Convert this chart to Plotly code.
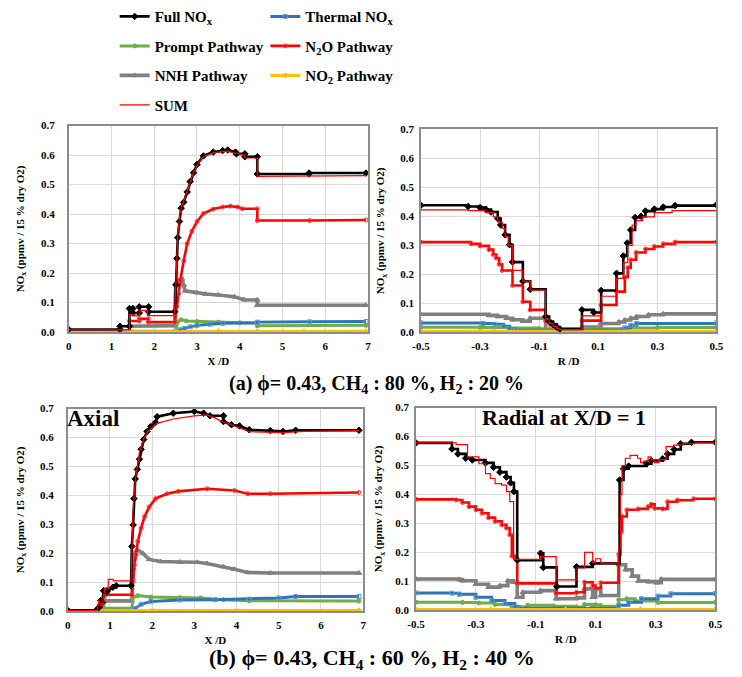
import plotly.graph_objects as go

FONT = "Liberation Serif"

# ---------------- tick labels ----------------
Y_TICKS = [0.0, 0.1, 0.2, 0.3, 0.4, 0.5, 0.6, 0.7]
Y_TICK_TEXT = ["0.0", "0.1", "0.2", "0.3", "0.4", "0.5", "0.6", "0.7"]
AX_TICKS = [0, 1, 2, 3, 4, 5, 6, 7]
AX_TICK_TEXT = ["0", "1", "2", "3", "4", "5", "6", "7"]
RAD_TICKS = [-0.5, -0.3, -0.1, 0.1, 0.3, 0.5]
RAD_TICK_TEXT = ["-0.5", "-0.3", "-0.1", "0.1", "0.3", "0.5"]

# ---------------- (a) axial ----------------
A_AX_FULL_X = [0, 1.2, 1.2, 1.42, 1.42, 1.5, 1.5, 1.65, 1.65, 1.87, 1.87, 2.48, 2.51, 2.53, 2.55, 2.59, 2.63, 2.69, 2.77, 2.84, 2.92, 3.0, 3.15, 3.38, 3.6, 3.72, 3.9, 3.92, 4.12, 4.12, 4.41, 4.41, 5.62, 5.62, 6.95]
A_AX_FULL_Y = [0.009, 0.009, 0.02, 0.02, 0.08, 0.08, 0.065, 0.065, 0.086, 0.086, 0.069, 0.069, 0.16, 0.25, 0.32, 0.375, 0.42, 0.44, 0.475, 0.51, 0.54, 0.568, 0.597, 0.61, 0.615, 0.617, 0.61, 0.604, 0.604, 0.594, 0.594, 0.536, 0.536, 0.539, 0.539]
A_AX_SUM_X = [0, 1.42, 1.42, 1.53, 1.53, 1.65, 1.65, 1.84, 1.84, 2.47, 2.5, 2.52, 2.55, 2.6, 2.65, 2.72, 2.8, 2.9, 3.0, 3.15, 3.4, 3.7, 3.9, 4.12, 4.12, 4.41, 4.41, 6.95]
A_AX_SUM_Y = [0.008, 0.008, 0.06, 0.06, 0.055, 0.055, 0.074, 0.074, 0.056, 0.056, 0.14, 0.24, 0.33, 0.4, 0.43, 0.455, 0.49, 0.535, 0.565, 0.595, 0.608, 0.613, 0.606, 0.6, 0.59, 0.59, 0.528, 0.53]
A_AX_N2O_X = [0, 1.42, 1.42, 1.65, 1.65, 1.86, 1.86, 2.48, 2.53, 2.57, 2.61, 2.69, 2.77, 2.88, 3.0, 3.15, 3.38, 3.6, 3.78, 3.95, 4.06, 4.41, 4.41, 5.63, 6.95]
A_AX_N2O_Y = [0.005, 0.005, 0.038, 0.038, 0.045, 0.045, 0.034, 0.034, 0.087, 0.13, 0.176, 0.242, 0.3, 0.342, 0.375, 0.402, 0.417, 0.424, 0.427, 0.424, 0.418, 0.418, 0.378, 0.378, 0.38]
A_AX_NNH_X = [0, 1.42, 1.42, 2.48, 2.5, 2.58, 2.65, 2.69, 2.72, 3.0, 3.2, 3.5, 3.87, 4.1, 4.41, 4.41, 6.95]
A_AX_NNH_Y = [0.003, 0.003, 0.02, 0.022, 0.165, 0.176, 0.18, 0.16, 0.14, 0.134, 0.129, 0.126, 0.12, 0.11, 0.109, 0.091, 0.091]
A_AX_THERMAL_X = [0, 2.5, 2.6, 2.7, 2.84, 3.0, 3.3, 3.6, 4.41, 4.41, 5.63, 6.95]
A_AX_THERMAL_Y = [0.002, 0.003, 0.008, 0.013, 0.018, 0.023, 0.027, 0.03, 0.032, 0.034, 0.035, 0.036]
A_AX_PROMPT_X = [0, 2.5, 2.55, 2.63, 2.75, 3.0, 3.5, 4.0, 4.41, 4.41, 6.95]
A_AX_PROMPT_Y = [0.003, 0.004, 0.035, 0.042, 0.038, 0.036, 0.034, 0.032, 0.031, 0.022, 0.023]
A_AX_NO2_X = [0, 1.5, 2.5, 3.5, 4.41, 5.5, 6.95]
A_AX_NO2_Y = [0.001, 0.001, 0.002, 0.003, 0.003, 0.003, 0.003]

# ---------------- (a) radial ----------------
A_RAD_FULL_X = [-0.5, -0.34, -0.3, -0.28, -0.263, -0.24, -0.23, -0.215, -0.2, -0.19, -0.155, -0.13, -0.078, -0.066, -0.053, -0.04, -0.03, 0.045, 0.085, 0.11, 0.162, 0.185, 0.198, 0.21, 0.225, 0.245, 0.26, 0.29, 0.32, 0.36, 0.5]
A_RAD_FULL_Y = [0.438, 0.434, 0.43, 0.423, 0.415, 0.392, 0.37, 0.336, 0.302, 0.242, 0.176, 0.148, 0.054, 0.037, 0.026, 0.017, 0.011, 0.077, 0.068, 0.144, 0.203, 0.263, 0.308, 0.353, 0.396, 0.40, 0.418, 0.425, 0.432, 0.437, 0.44]
A_RAD_SUM_X = [-0.5, -0.34, -0.28, -0.255, -0.24, -0.225, -0.215, -0.205, -0.19, -0.155, -0.13, -0.078, -0.066, -0.053, -0.04, -0.03, 0.045, 0.11, 0.162, 0.185, 0.2, 0.215, 0.228, 0.25, 0.29, 0.35, 0.5]
A_RAD_SUM_Y = [0.422, 0.42, 0.413, 0.398, 0.38, 0.358, 0.33, 0.3, 0.213, 0.176, 0.145, 0.045, 0.03, 0.02, 0.012, 0.009, 0.056, 0.124, 0.186, 0.24, 0.3, 0.37, 0.385, 0.398, 0.413, 0.42, 0.422]
A_RAD_N2O_X = [-0.5, -0.33, -0.3, -0.27, -0.255, -0.245, -0.235, -0.225, -0.19, -0.155, -0.13, -0.078, -0.062, -0.04, -0.03, 0.045, 0.11, 0.162, 0.19, 0.2, 0.21, 0.228, 0.26, 0.29, 0.32, 0.36, 0.5]
A_RAD_N2O_Y = [0.311, 0.305, 0.298, 0.285, 0.268, 0.256, 0.234, 0.213, 0.161, 0.105, 0.077, 0.04, 0.026, 0.015, 0.009, 0.04, 0.094, 0.14, 0.19, 0.223, 0.25, 0.275, 0.287, 0.296, 0.305, 0.311, 0.311]
A_RAD_NNH_X = [-0.5, -0.27, -0.24, -0.21, -0.19, -0.155, -0.13, -0.078, 0.045, 0.11, 0.17, 0.19, 0.21, 0.23, 0.27, 0.32, 0.5]
A_RAD_NNH_Y = [0.062, 0.058, 0.054, 0.048, 0.043, 0.038, 0.048, 0.009, 0.018, 0.03, 0.035, 0.042, 0.048, 0.054, 0.06, 0.063, 0.063]
A_RAD_THERMAL_X = [-0.5, -0.29, -0.25, -0.22, -0.2, -0.18, 0.18, 0.19, 0.21, 0.23, 0.5]
A_RAD_THERMAL_Y = [0.032, 0.03, 0.027, 0.02, 0.012, 0.007, 0.009, 0.015, 0.024, 0.03, 0.032]
A_RAD_PROMPT_X = [-0.5, -0.3, -0.2, -0.1, 0.1, 0.2, 0.3, 0.5]
A_RAD_PROMPT_Y = [0.017, 0.016, 0.014, 0.012, 0.012, 0.014, 0.016, 0.017]
A_RAD_NO2_X = [-0.5, -0.25, 0.0, 0.25, 0.5]
A_RAD_NO2_Y = [0.003, 0.003, 0.003, 0.003, 0.003]

# ---------------- (b) axial ----------------
B_AX_FULL_X = [0, 0.67, 0.75, 0.78, 0.82, 0.85, 0.93, 0.93, 1.07, 1.15, 1.5, 1.52, 1.55, 1.57, 1.6, 1.65, 1.7, 1.74, 1.8, 1.88, 1.97, 2.08, 2.12, 2.5, 3.0, 3.22, 3.37, 3.69, 3.69, 3.88, 4.07, 4.3, 4.8, 5.1, 5.4, 6.9]
B_AX_FULL_Y = [0.003, 0.003, 0.015, 0.037, 0.03, 0.071, 0.071, 0.068, 0.083, 0.088, 0.088, 0.224, 0.298, 0.389, 0.457, 0.49, 0.525, 0.559, 0.593, 0.621, 0.638, 0.652, 0.672, 0.684, 0.69, 0.684, 0.675, 0.675, 0.655, 0.644, 0.64, 0.627, 0.624, 0.621, 0.625, 0.625]
B_AX_SUM_X = [0, 0.7, 0.74, 0.78, 0.82, 0.88, 0.96, 0.96, 1.08, 1.08, 1.5, 1.52, 1.55, 1.6, 1.65, 1.7, 1.8, 1.9, 2.0, 2.1, 2.5, 3.0, 3.3, 3.5, 3.65, 3.88, 4.3, 5.1, 5.6, 6.9]
B_AX_SUM_Y = [0.003, 0.003, 0.04, 0.02, 0.02, 0.08, 0.08, 0.11, 0.11, 0.105, 0.105, 0.25, 0.35, 0.45, 0.51, 0.55, 0.595, 0.62, 0.635, 0.648, 0.664, 0.675, 0.678, 0.667, 0.655, 0.644, 0.62, 0.617, 0.621, 0.624]
B_AX_N2O_X = [0, 0.7, 0.75, 0.82, 0.9, 1.52, 1.55, 1.58, 1.62, 1.66, 1.74, 1.82, 1.93, 2.08, 2.35, 2.62, 3.3, 3.95, 4.26, 4.8, 6.9]
B_AX_N2O_Y = [0.003, 0.003, 0.02, 0.04, 0.057, 0.057, 0.105, 0.16, 0.196, 0.241, 0.287, 0.327, 0.36, 0.389, 0.406, 0.414, 0.423, 0.417, 0.406, 0.406, 0.41]
B_AX_NNH_X = [0, 0.7, 0.75, 0.82, 0.9, 1.52, 1.55, 1.58, 1.65, 1.78, 1.93, 2.2, 2.66, 3.07, 3.3, 3.69, 3.95, 4.26, 4.8, 6.9]
B_AX_NNH_Y = [0.001, 0.001, 0.01, 0.02, 0.036, 0.036, 0.15, 0.2, 0.213, 0.2, 0.179, 0.172, 0.17, 0.169, 0.165, 0.154, 0.145, 0.134, 0.132, 0.132]
B_AX_THERMAL_X = [0, 1.52, 1.6, 1.74, 1.97, 2.66, 3.5, 4.3, 5.0, 5.4, 6.9]
B_AX_THERMAL_Y = [0.002, 0.002, 0.01, 0.024, 0.034, 0.039, 0.04, 0.042, 0.046, 0.051, 0.051]
B_AX_PROMPT_X = [0, 0.7, 0.75, 1.52, 1.55, 1.66, 1.97, 2.66, 3.15, 3.69, 4.3, 6.9]
B_AX_PROMPT_Y = [0.001, 0.001, 0.01, 0.01, 0.049, 0.054, 0.049, 0.047, 0.046, 0.04, 0.036, 0.035]
B_AX_NO2_X = [0, 2.0, 4.0, 6.9]
B_AX_NO2_Y = [0.002, 0.002, 0.002, 0.003]

# ---------------- (b) radial ----------------
B_RAD_FULL_X = [-0.5, -0.38, -0.36, -0.334, -0.312, -0.268, -0.241, -0.22, -0.198, -0.184, -0.173, -0.162, -0.084, -0.075, -0.03, 0.036, 0.09, 0.18, 0.193, 0.21, 0.27, 0.286, 0.324, 0.34, 0.362, 0.384, 0.42, 0.5]
B_RAD_FULL_Y = [0.578, 0.557, 0.54, 0.525, 0.519, 0.509, 0.494, 0.477, 0.46, 0.44, 0.41, 0.173, 0.197, 0.148, 0.082, 0.15, 0.162, 0.45, 0.489, 0.498, 0.506, 0.517, 0.523, 0.54, 0.555, 0.575, 0.58, 0.58]
B_RAD_SUM_X = [-0.5, -0.366, -0.328, -0.29, -0.268, -0.252, -0.236, -0.214, -0.198, -0.187, -0.174, -0.084, -0.032, 0.038, 0.063, 0.09, 0.1, 0.117, 0.177, 0.183, 0.188, 0.199, 0.215, 0.24, 0.25, 0.26, 0.275, 0.285, 0.295, 0.31, 0.335, 0.36, 0.39, 0.43, 0.5]
B_RAD_SUM_Y = [0.578, 0.572, 0.53, 0.506, 0.472, 0.455, 0.437, 0.432, 0.41, 0.375, 0.176, 0.185, 0.105, 0.146, 0.2, 0.165, 0.178, 0.163, 0.215, 0.4, 0.5, 0.525, 0.535, 0.525, 0.51, 0.515, 0.53, 0.52, 0.51, 0.52, 0.565, 0.57, 0.575, 0.578, 0.578]
B_RAD_N2O_X = [-0.5, -0.366, -0.345, -0.323, -0.3, -0.28, -0.258, -0.236, -0.214, -0.198, -0.187, -0.18, -0.17, -0.162, -0.032, 0.036, 0.063, 0.09, 0.1, 0.117, 0.177, 0.183, 0.188, 0.204, 0.242, 0.275, 0.286, 0.297, 0.324, 0.34, 0.373, 0.427, 0.5]
B_RAD_N2O_Y = [0.383, 0.381, 0.372, 0.358, 0.347, 0.335, 0.32, 0.307, 0.295, 0.284, 0.261, 0.188, 0.182, 0.093, 0.059, 0.062, 0.097, 0.085, 0.077, 0.095, 0.193, 0.27, 0.324, 0.347, 0.35, 0.358, 0.366, 0.352, 0.35, 0.375, 0.38, 0.385, 0.385]
B_RAD_NNH_X = [-0.5, -0.355, -0.345, -0.3, -0.258, -0.22, -0.193, -0.175, -0.162, -0.143, -0.084, -0.032, 0.036, 0.063, 0.09, 0.1, 0.117, 0.177, 0.2, 0.222, 0.243, 0.276, 0.303, 0.319, 0.5]
B_RAD_NNH_Y = [0.108, 0.106, 0.102, 0.09, 0.08, 0.085, 0.102, 0.097, 0.045, 0.062, 0.068, 0.04, 0.043, 0.074, 0.045, 0.074, 0.051, 0.157, 0.14, 0.118, 0.101, 0.099, 0.095, 0.107, 0.107]
B_RAD_THERMAL_X = [-0.5, -0.38, -0.355, -0.3, -0.247, -0.203, -0.17, -0.15, 0.177, 0.21, 0.253, 0.308, 0.351, 0.5]
B_RAD_THERMAL_Y = [0.06, 0.059, 0.055, 0.045, 0.034, 0.023, 0.011, 0.007, 0.017, 0.028, 0.04, 0.049, 0.057, 0.058]
B_RAD_PROMPT_X = [-0.5, -0.345, -0.29, -0.236, -0.18, -0.16, -0.127, -0.04, 0.036, 0.063, 0.09, 0.1, 0.117, 0.177, 0.204, 0.232, 0.308, 0.5]
B_RAD_PROMPT_Y = [0.028, 0.027, 0.025, 0.02, 0.014, 0.011, 0.017, 0.014, 0.011, 0.02, 0.014, 0.019, 0.014, 0.036, 0.04, 0.032, 0.027, 0.028]
B_RAD_NO2_X = [-0.5, -0.25, 0.0, 0.25, 0.5]
B_RAD_NO2_Y = [0.003, 0.003, 0.003, 0.003, 0.003]

PANEL_DATA = {
    "a_ax": {"full": (A_AX_FULL_X, A_AX_FULL_Y), "sum": (A_AX_SUM_X, A_AX_SUM_Y),
             "n2o": (A_AX_N2O_X, A_AX_N2O_Y), "nnh": (A_AX_NNH_X, A_AX_NNH_Y),
             "thermal": (A_AX_THERMAL_X, A_AX_THERMAL_Y), "prompt": (A_AX_PROMPT_X, A_AX_PROMPT_Y),
             "no2": (A_AX_NO2_X, A_AX_NO2_Y)},
    "a_rad": {"full": (A_RAD_FULL_X, A_RAD_FULL_Y), "sum": (A_RAD_SUM_X, A_RAD_SUM_Y),
              "n2o": (A_RAD_N2O_X, A_RAD_N2O_Y), "nnh": (A_RAD_NNH_X, A_RAD_NNH_Y),
              "thermal": (A_RAD_THERMAL_X, A_RAD_THERMAL_Y), "prompt": (A_RAD_PROMPT_X, A_RAD_PROMPT_Y),
              "no2": (A_RAD_NO2_X, A_RAD_NO2_Y)},
    "b_ax": {"full": (B_AX_FULL_X, B_AX_FULL_Y), "sum": (B_AX_SUM_X, B_AX_SUM_Y),
             "n2o": (B_AX_N2O_X, B_AX_N2O_Y), "nnh": (B_AX_NNH_X, B_AX_NNH_Y),
             "thermal": (B_AX_THERMAL_X, B_AX_THERMAL_Y), "prompt": (B_AX_PROMPT_X, B_AX_PROMPT_Y),
             "no2": (B_AX_NO2_X, B_AX_NO2_Y)},
    "b_rad": {"full": (B_RAD_FULL_X, B_RAD_FULL_Y), "sum": (B_RAD_SUM_X, B_RAD_SUM_Y),
              "n2o": (B_RAD_N2O_X, B_RAD_N2O_Y), "nnh": (B_RAD_NNH_X, B_RAD_NNH_Y),
              "thermal": (B_RAD_THERMAL_X, B_RAD_THERMAL_Y), "prompt": (B_RAD_PROMPT_X, B_RAD_PROMPT_Y),
              "no2": (B_RAD_NO2_X, B_RAD_NO2_Y)},
}

# ---------------- styles ----------------
STYLE = {
    "full": dict(name="Full NO<sub>x</sub>", color="#000000", mcolor="#000000", symbol="diamond", lw=2.6, ms=5, legend="legend", rank=1),
    "thermal": dict(name="Thermal NO<sub>x</sub>", color="#2E75B6", mcolor="#5B9BD5", symbol="square-open", lw=3, ms=4, legend="legend2", rank=1),
    "prompt": dict(name="Prompt Pathway", color="#70AD47", mcolor="#70AD47", symbol="circle", lw=3, ms=4, legend="legend", rank=2),
    "n2o": dict(name="N<sub>2</sub>O Pathway", color="#FF0000", mcolor="#FF3030", symbol="circle-open", lw=2.6, ms=4, legend="legend2", rank=2),
    "nnh": dict(name="NNH Pathway", color="#808080", mcolor="#808080", symbol="triangle-up", lw=3.6, ms=5, legend="legend", rank=3),
    "no2": dict(name="NO<sub>2</sub> Pathway", color="#FFC000", mcolor="#FFC000", symbol="diamond", lw=3, ms=4, legend="legend2", rank=3),
    "sum": dict(name="SUM", color="#FF0000", mcolor="#FF0000", symbol=None, lw=1.2, ms=0, legend="legend", rank=4),
}
DRAW_ORDER = ["nnh", "prompt", "thermal", "n2o", "no2", "full", "sum"]

PANELS = [
    ("a_ax", "x", "y", "linear"),
    ("a_rad", "x2", "y2", "hv"),
    ("b_ax", "x3", "y3", "linear"),
    ("b_rad", "x4", "y4", "hv"),
]

fig = go.Figure()
for pi, (pkey, xa, ya, shape) in enumerate(PANELS):
    for skey in DRAW_ORDER:
        st = STYLE[skey]
        xs, ys = PANEL_DATA[pkey][skey]
        kw = dict(
            x=xs, y=ys, xaxis=xa, yaxis=ya, name=st["name"],
            legendgroup=skey, legend=st["legend"], legendrank=st["rank"],
            showlegend=(pi == 0), hoverinfo="skip",
            line=dict(color=st["color"], width=st["lw"], shape=shape),
        )
        if st["symbol"]:
            kw["mode"] = "lines+markers"
            kw["marker"] = dict(symbol=st["symbol"], size=st["ms"], color=st["mcolor"],
                                line=dict(width=1, color=st["mcolor"]))
        else:
            kw["mode"] = "lines"
        fig.add_trace(go.Scatter(**kw))

W, H = 742, 677
def dom_x(a, b):
    return [a / W, b / W]
def dom_y(top, bot):
    return [1 - bot / H, 1 - top / H]

TICKFONT = dict(family=FONT, size=11, color="black", weight="bold")
TITLEFONT = dict(family=FONT, size=11, color="black", weight="bold")
YTITLE = "NO<sub>x</sub> (ppmv / 15 % dry O2)"

def xaxis(domain, anchor, axial, title):
    d = dict(domain=domain, anchor=anchor, showgrid=True, gridcolor="#d9d9d9", gridwidth=1,
             showline=True, mirror=True, linecolor="#8c8c8c", linewidth=1.5,
             zeroline=False, ticks="", tickfont=TICKFONT, ticklabelstandoff=3,
             title=dict(text=title, font=TITLEFONT, standoff=6), automargin=True)
    if axial:
        d.update(range=[0, 7], tickvals=AX_TICKS, ticktext=AX_TICK_TEXT)
    else:
        d.update(range=[-0.5, 0.5], tickvals=RAD_TICKS, ticktext=RAD_TICK_TEXT)
    return d

def yaxis(domain, anchor, label_standoff, title_standoff):
    return dict(domain=domain, anchor=anchor, range=[0, 0.7], tickvals=Y_TICKS, ticktext=Y_TICK_TEXT,
                showgrid=True, gridcolor="#d9d9d9", gridwidth=1,
                showline=True, mirror=True, linecolor="#8c8c8c", linewidth=1.5,
                zeroline=False, ticks="", tickfont=TICKFONT, ticklabelstandoff=label_standoff,
                title=dict(text=YTITLE, font=TITLEFONT, standoff=title_standoff), automargin=True)

LEG_FONT = dict(family=FONT, size=15, color="black", weight="bold")
fig.update_layout(
    width=W, height=H, autosize=False,
    margin=dict(l=0, r=0, t=0, b=0),
    paper_bgcolor="white", plot_bgcolor="white",
    font=dict(family=FONT, color="black"),
    xaxis=xaxis(dom_x(61, 367), "y", True, "X /D"),
    yaxis=yaxis(dom_y(120, 331), "x", 10, 14),
    xaxis2=xaxis(dom_x(421, 723), "y2", False, "R /D"),
    yaxis2=yaxis(dom_y(124, 331), "x2", 3, 13),
    xaxis3=xaxis(dom_x(60, 362), "y3", True, "X /D"),
    yaxis3=yaxis(dom_y(409, 616), "x3", 10, 13),
    xaxis4=xaxis(dom_x(416, 722), "y4", False, "R /D"),
    yaxis4=yaxis(dom_y(408, 615), "x4", 3, 10),
    legend=dict(x=108 / W, y=1 + 8 / H, xanchor="left", yanchor="top", orientation="v",
                bgcolor="rgba(0,0,0,0)", tracegroupgap=7, font=LEG_FONT),
    legend2=dict(x=262 / W, y=1 + 8 / H, xanchor="left", yanchor="top", orientation="v",
                 bgcolor="rgba(0,0,0,0)", tracegroupgap=7, font=LEG_FONT),
    showlegend=True,
)

fig.add_annotation(text="(a) \u03d5= 0.43, CH<sub>4</sub> : 80 %, H<sub>2</sub> : 20 %",
                   x=376 / W, y=1 - 384 / H, xref="paper", yref="paper",
                   xanchor="center", yanchor="middle", showarrow=False,
                   font=dict(family=FONT, size=20, color="black", weight="bold"))
fig.add_annotation(text="(b) \u03d5= 0.43, CH<sub>4</sub> : 60 %, H<sub>2</sub> : 40 %",
                   x=371 / W, y=1 - 665 / H, xref="paper", yref="paper",
                   xanchor="center", yanchor="middle", showarrow=False,
                   font=dict(family=FONT, size=22, color="black", weight="bold"))
fig.add_annotation(text="Axial", x=57 / W, y=1 - 419 / H, xref="paper", yref="paper",
                   xanchor="left", yanchor="middle", showarrow=False,
                   font=dict(family=FONT, size=23, color="black", weight="bold"))
fig.add_annotation(text="Radial at X/D = 1", x=567 / W, y=1 - 418 / H, xref="paper", yref="paper",
                   xanchor="center", yanchor="middle", showarrow=False,
                   font=dict(family=FONT, size=22, color="black", weight="bold"))

fig.write_html("out.html")
